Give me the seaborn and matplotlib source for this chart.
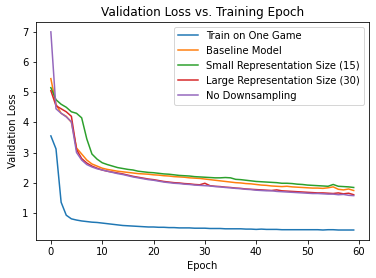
import matplotlib

matplotlib.use("Agg")

import matplotlib.pyplot as plt  # noqa: E402
import numpy as np  # noqa: E402
import pandas as pd  # noqa: E402
import seaborn as sns  # noqa: E402

epochs = np.arange(60)

train_one_game = [
    3.55, 3.12, 1.35, 0.92, 0.80, 0.76, 0.73, 0.71, 0.69, 0.68,
    0.66, 0.64, 0.62, 0.60, 0.58, 0.57, 0.56, 0.55, 0.54, 0.53,
    0.53, 0.52, 0.52, 0.51, 0.51, 0.50, 0.50, 0.50, 0.49, 0.49,
    0.49, 0.48, 0.48, 0.48, 0.47, 0.47, 0.47, 0.47, 0.46, 0.46,
    0.45, 0.46, 0.45, 0.45, 0.45, 0.44, 0.44, 0.44, 0.44, 0.44,
    0.44, 0.44, 0.44, 0.43, 0.44, 0.44, 0.43, 0.43, 0.43, 0.43,
]
baseline = [
    5.45, 4.60, 4.30, 4.20, 4.00, 3.15, 2.95, 2.75, 2.62, 2.55,
    2.48, 2.44, 2.41, 2.38, 2.36, 2.34, 2.32, 2.30, 2.29, 2.28,
    2.26, 2.25, 2.23, 2.22, 2.20, 2.19, 2.18, 2.16, 2.15, 2.14,
    2.12, 2.10, 2.08, 2.06, 2.04, 2.02, 2.00, 1.99, 1.97, 1.96,
    1.94, 1.92, 1.91, 1.89, 1.88, 1.87, 1.88, 1.86, 1.85, 1.84,
    1.83, 1.82, 1.82, 1.81, 1.83, 1.86, 1.78, 1.76, 1.79, 1.74,
]
small_repr = [
    5.15, 4.75, 4.60, 4.50, 4.35, 4.30, 4.15, 3.45, 2.95, 2.78,
    2.66, 2.60, 2.55, 2.50, 2.47, 2.44, 2.42, 2.38, 2.36, 2.34,
    2.33, 2.31, 2.29, 2.28, 2.26, 2.24, 2.23, 2.22, 2.20, 2.19,
    2.18, 2.17, 2.16, 2.16, 2.17, 2.16, 2.11, 2.10, 2.08, 2.06,
    2.04, 2.03, 2.02, 2.01, 2.00, 1.98, 1.98, 1.97, 1.95, 1.94,
    1.92, 1.91, 1.90, 1.89, 1.88, 1.94, 1.88, 1.87, 1.86, 1.84,
]
large_repr = [
    5.05, 4.55, 4.45, 4.35, 4.20, 3.10, 2.80, 2.65, 2.55, 2.48,
    2.42, 2.38, 2.35, 2.32, 2.29, 2.25, 2.21, 2.18, 2.15, 2.12,
    2.10, 2.07, 2.04, 2.02, 2.00, 1.99, 1.97, 1.96, 1.94, 1.93,
    1.98, 1.90, 1.88, 1.87, 1.85, 1.84, 1.82, 1.81, 1.79, 1.78,
    1.77, 1.76, 1.75, 1.74, 1.76, 1.73, 1.72, 1.71, 1.70, 1.69,
    1.68, 1.67, 1.66, 1.66, 1.65, 1.64, 1.66, 1.63, 1.65, 1.60,
]
no_downsampling = [
    7.00, 4.45, 4.30, 4.18, 4.02, 3.00, 2.75, 2.60, 2.52, 2.46,
    2.42, 2.38, 2.34, 2.30, 2.27, 2.23, 2.19, 2.16, 2.13, 2.10,
    2.08, 2.05, 2.02, 2.00, 1.98, 1.97, 1.95, 1.94, 1.92, 1.91,
    1.90, 1.89, 1.87, 1.86, 1.84, 1.83, 1.81, 1.80, 1.78, 1.77,
    1.75, 1.74, 1.73, 1.73, 1.71, 1.70, 1.69, 1.68, 1.67, 1.66,
    1.65, 1.64, 1.64, 1.63, 1.62, 1.62, 1.60, 1.61, 1.58, 1.57,
]

series_names = [
    "Train on One Game",
    "Baseline Model",
    "Small Representation Size (15)",
    "Large Representation Size (30)",
    "No Downsampling",
]
series_values = [train_one_game, baseline, small_repr, large_repr, no_downsampling]

frames = []
for name, vals in zip(series_names, series_values):
    frames.append(pd.DataFrame({"Epoch": epochs, "Validation Loss": vals, "Model": name}))
df = pd.concat(frames, ignore_index=True)

fig, ax = plt.subplots(figsize=(376 / 72, 278 / 72), dpi=72)
fig.subplots_adjust(left=0.095, right=0.981, top=0.921, bottom=0.137)

sns.lineplot(
    data=df,
    x="Epoch",
    y="Validation Loss",
    hue="Model",
    hue_order=series_names,
    palette=sns.color_palette("tab10", 5),
    linewidth=1.5,
    ax=ax,
)
ax.legend(title=None, loc="upper right")
ax.set_title("Validation Loss vs. Training Epoch")
ax.set_xticks([0, 10, 20, 30, 40, 50, 60])

fig.savefig("out.png", dpi=72)
plt.close(fig)
